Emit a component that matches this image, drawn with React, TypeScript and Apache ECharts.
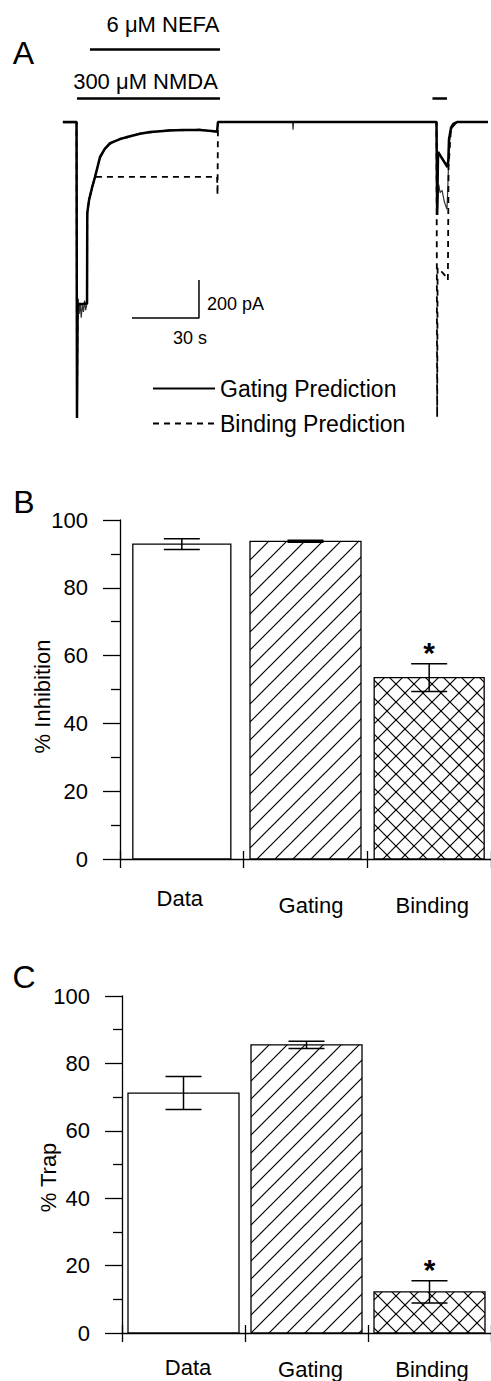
import React, { useEffect, useRef } from 'react';
import * as echarts from 'echarts';

const FONT = '"Liberation Sans", Arial, Helvetica, sans-serif';

// ---------- Panel A : current traces, [time (s), current (pA)] ----------
const dataTrace = [
  [1.3, -4], [7.4, -3], [7.6, -1545], [7.8, -1000], [8.2, -930], [8.6, -1010], [9.0, -950],
  [9.5, -1030], [10.0, -960], [10.5, -1000], [11.0, -940], [11.5, -990], [12.0, -960],
  [12.2, -500], [13.0, -400], [14.3, -355], [15.7, -280], [17.9, -195], [20.1, -145],
  [22.4, -118], [26.9, -85], [30.0, -84], [35.8, -58], [40.3, -57], [49.2, -40], [55.0, -46],
  [62.7, -38], [70.3, -55], [70.7, -2], [104.1, -2], [104.3, -40], [104.5, -2], [168.5, -2],
  [168.8, -489], [169.5, -330], [170.1, -372], [171.0, -360], [172.0, -420], [173.2, -460],
  [173.7, -300], [174.1, -120], [175.0, -40], [177.0, -8], [178.0, 0], [191.5, -2],
];
const gatingTrace = [
  [1.3, 0], [7.4, 0], [7.6, -1558], [7.9, -960], [12.1, -955], [12.2, -479], [13.0, -411],
  [14.3, -347], [15.7, -289], [17.9, -184], [20.1, -140], [22.4, -111], [26.9, -90],
  [30.0, -79], [35.8, -62], [40.3, -53], [49.2, -45], [55.0, -42], [62.7, -42], [70.3, -50],
  [70.7, 0], [168.5, 0], [168.8, -489], [169.2, -158], [173.4, -237], [173.8, -200],
  [174.1, -90], [175.0, -30], [176.0, -10], [177.7, 0], [191.5, 0],
];
const bindingTrace = [
  [1.3, 0], [7.4, 0], [7.6, -1558], [7.9, -960], [12.1, -955], [12.2, -479], [13.0, -411],
  [14.3, -347], [15.7, -289], [70.3, -289], [70.5, -384], [70.7, 0], [168.5, 0],
  [168.8, -1553], [169.0, -768], [171.0, -790], [173.2, -821], [173.6, -832], [173.9, -237],
  [175.0, -30], [177.7, 0], [191.5, 0],
];
// drug application periods (s)
const nefaApplication = [13.4, 71.6];
const nmdaApplication = [7.6, 71.6];
const nmdaPulse = [166.7, 173.2];
// scale bar: 30 s x 200 pA
const scaleBarTime = 30;
const scaleBarCurrent = 200;

// ---------- Panels B and C ----------
const categories = ['Data', 'Gating', 'Binding'];
const inhibitionMean = [92.9, 93.7, 53.5];
const inhibitionErr = [1.6, 0.3, 4.1];
const trapMean = [71.2, 85.5, 12.2];
const trapErr = [4.9, 1.1, 3.3];
const significant = [false, false, true];

// ---------- layout / style (not data) ----------
const LAYOUT = {
  nefaLevel: 384,
  nmdaLevel: 126,
  scaleBarCorner: [62.2, -1032],
  barWidthsB: [98, 111, 110],
  barWidthsC: [111, 111, 111],
};

function makeHatch(cross: boolean) {
  const s = 18;
  const c = document.createElement('canvas');
  c.width = s;
  c.height = s;
  const ctx = c.getContext('2d')!;
  ctx.fillStyle = '#fff';
  ctx.fillRect(0, 0, s, s);
  ctx.strokeStyle = '#000';
  ctx.lineWidth = 1.2;
  const seg = (x1: number, y1: number, x2: number, y2: number) => {
    ctx.beginPath();
    ctx.moveTo(x1, y1);
    ctx.lineTo(x2, y2);
    ctx.stroke();
  };
  seg(-2, s + 2, s + 2, -2);
  seg(-2, 2, 2, -2);
  seg(s - 2, s + 2, s + 2, s - 2);
  if (cross) {
    seg(-2, -2, s + 2, s + 2);
    seg(s - 2, -2, s + 2, 2);
    seg(-2, s - 2, 2, s + 2);
  }
  return { image: c, repeat: 'repeat', imageWidth: s, imageHeight: s };
}

const richLabel = (pads: Record<string, number[]>) => {
  const rich: any = {};
  Object.keys(pads).forEach((k) => {
    rich[k] = { fontSize: 22, fontFamily: FONT, color: '#000', padding: pads[k] };
  });
  return rich;
};
const keyOf = (v: string) => (v === 'Data' ? 'd' : v === 'Gating' ? 'g' : 'b');

const txt = (text: string, x: number, y: number, fontSize: number, align = 'center', extra: any = {}) => ({
  type: 'text', x, y,
  style: {
    text, fontSize, fontFamily: FONT, fill: '#000',
    align, verticalAlign: 'middle', textAlign: align, textVerticalAlign: 'middle', ...extra,
  },
});

export default function App() {
  const ref = useRef<HTMLDivElement>(null);
  useEffect(() => {
    if (!ref.current) return;
    const chart = echarts.init(ref.current, null, { renderer: 'svg' });
    const hatch = makeHatch(false);
    const cross = makeHatch(true);
    const fills = ['#fff', hatch, cross];

    const barRender = (widths: number[]) => (params: any, api: any) => {
      const i = params.dataIndex;
      const top = api.coord([api.value(0), api.value(1)]);
      const base = api.coord([api.value(0), 0]);
      const w = widths[i];
      return {
        type: 'rect',
        shape: { x: top[0] - w / 2, y: top[1], width: w, height: base[1] - top[1] },
        style: { fill: fills[i], stroke: '#000', lineWidth: 1.3 },
      };
    };
    const errRender = (params: any, api: any) => {
      const i = api.value(0);
      const m = api.value(1);
      const e = api.value(2);
      const s = api.value(3);
      const hi = api.coord([i, m + e]);
      const lo = api.coord([i, m - e]);
      const x = hi[0];
      const h = 18;
      const ls = { stroke: '#000', lineWidth: 1.5 };
      const children: any[] = [
        { type: 'line', shape: { x1: x, y1: hi[1], x2: x, y2: lo[1] }, style: ls },
        { type: 'line', shape: { x1: x - h, y1: hi[1], x2: x + h, y2: hi[1] }, style: ls },
        { type: 'line', shape: { x1: x - h, y1: lo[1], x2: x + h, y2: lo[1] }, style: ls },
      ];
      if (s) {
        children.push(txt('*', x, hi[1] - 11, 30, 'center', { fontWeight: 'bold' }));
      }
      return { type: 'group', children };
    };

    const axisBlack = { color: '#000', width: 1.3 };
    const valueY = (gridIndex: number, name: string, nameGap: number, shift: number) => ({
      gridIndex, type: 'value', min: 0, max: 100, interval: 20,
      axisLine: { show: true, lineStyle: axisBlack },
      axisTick: { show: true, length: 17, lineStyle: axisBlack },
      minorTick: { show: true, splitNumber: 2, length: 9, lineStyle: axisBlack },
      splitLine: { show: false },
      axisLabel: { margin: 32, fontSize: 22, fontFamily: FONT, color: '#000' },
      name, nameLocation: 'middle', nameGap, nameMoveOverlap: false,
      nameTextStyle: { fontSize: 22, fontFamily: FONT, color: '#000', padding: [0, shift, 0, 0] },
    });
    const catX = (gridIndex: number, margin: number, pads: Record<string, number[]>) => ({
      gridIndex, type: 'category', data: categories, position: 'bottom',
      axisLine: { show: true, lineStyle: axisBlack },
      axisTick: { show: true, length: 9, interval: 0, lineStyle: axisBlack },
      axisLabel: {
        interval: 0, margin,
        formatter: (v: string) => `{${keyOf(v)}|${v}}`,
        rich: richLabel(pads),
      },
    });
    const catXInner = (gridIndex: number) => ({
      gridIndex, type: 'category', data: categories, position: 'bottom',
      axisLine: { show: false },
      axisTick: { show: true, inside: true, length: 8, interval: 0, lineStyle: axisBlack },
      axisLabel: { show: false },
    });

    const [cx, cy] = LAYOUT.scaleBarCorner;

    const option: any = {
      animation: false,
      backgroundColor: '#fff',
      textStyle: { fontFamily: FONT, color: '#000' },
      grid: [
        { left: 60, top: 46, width: 429, height: 380 },
        { left: 120, top: 520, width: 373.5, height: 339 },
        { left: 122, top: 996, width: 373.5, height: 337 },
      ],
      xAxis: [
        { gridIndex: 0, type: 'value', min: 0, max: 192, show: false },
        catX(1, 28, { d: [0, 4, 0, 0], g: [7, 0, 0, 11], b: [7, 0, 0, 6] }),
        catXInner(1),
        catX(2, 23, { d: [0, 0, 0, 9], g: [2, 0, 0, 8], b: [2, 0, 0, 5] }),
        catXInner(2),
      ],
      yAxis: [
        { gridIndex: 0, type: 'value', min: -1600, max: 400, show: false },
        valueY(1, '% Inhibition', 67, 14),
        valueY(2, '% Trap', 63, 26),
      ],
      legend: {
        data: ['Gating Prediction', 'Binding Prediction'],
        orient: 'vertical', left: 152, top: 377, padding: 0,
        itemWidth: 62, itemHeight: 14, itemGap: 12, selectedMode: false,
        itemStyle: { opacity: 0 },
        textStyle: { fontSize: 23, fontFamily: FONT, color: '#000' },
      },
      series: [
        {
          name: 'Data', type: 'line', xAxisIndex: 0, yAxisIndex: 0, data: dataTrace,
          symbol: 'none', lineStyle: { color: '#333', width: 1.2 }, z: 2,
        },
        {
          name: 'Gating Prediction', type: 'line', xAxisIndex: 0, yAxisIndex: 0, data: gatingTrace,
          symbol: 'none', itemStyle: { color: '#000' }, lineStyle: { color: '#000', width: 2.5 }, z: 3,
        },
        {
          name: 'Binding Prediction', type: 'line', xAxisIndex: 0, yAxisIndex: 0, data: bindingTrace,
          symbol: 'none', itemStyle: { color: '#000' },
          lineStyle: { color: '#000', width: 1.8, type: [6, 5] }, z: 4,
        },
        {
          name: 'Applications', type: 'lines', coordinateSystem: 'cartesian2d', xAxisIndex: 0, yAxisIndex: 0,
          lineStyle: { color: '#000', width: 2.5, opacity: 1 },
          data: [
            { coords: [[nefaApplication[0], LAYOUT.nefaLevel], [nefaApplication[1], LAYOUT.nefaLevel]] },
            { coords: [[nmdaApplication[0], LAYOUT.nmdaLevel], [nmdaApplication[1], LAYOUT.nmdaLevel]] },
            { coords: [[nmdaPulse[0], LAYOUT.nmdaLevel], [nmdaPulse[1], LAYOUT.nmdaLevel]] },
          ],
        },
        {
          name: 'Scale', type: 'line', xAxisIndex: 0, yAxisIndex: 0, symbol: 'none',
          lineStyle: { color: '#000', width: 1.5 },
          data: [[cx - scaleBarTime, cy], [cx, cy], [cx, cy + scaleBarCurrent]],
        },
        {
          name: 'InhibitionBars', type: 'custom', xAxisIndex: 1, yAxisIndex: 1, z: 2,
          renderItem: barRender(LAYOUT.barWidthsB),
          data: inhibitionMean.map((m, i) => [i, m]),
        },
        {
          name: 'InhibitionErr', type: 'custom', xAxisIndex: 1, yAxisIndex: 1, z: 3,
          renderItem: errRender,
          data: inhibitionMean.map((m, i) => [i, m, inhibitionErr[i], significant[i] ? 1 : 0]),
        },
        {
          name: 'TrapBars', type: 'custom', xAxisIndex: 3, yAxisIndex: 2, z: 2,
          renderItem: barRender(LAYOUT.barWidthsC),
          data: trapMean.map((m, i) => [i, m]),
        },
        {
          name: 'TrapErr', type: 'custom', xAxisIndex: 3, yAxisIndex: 2, z: 3,
          renderItem: errRender,
          data: trapMean.map((m, i) => [i, m, trapErr[i], significant[i] ? 1 : 0]),
        },
      ],
      graphic: [
        txt('A', 23.5, 53, 32),
        txt('B', 24, 502, 32),
        txt('C', 24, 977, 32),
        txt('6 μM NEFA', 163, 24, 22),
        txt('300 μM NMDA', 145.5, 81, 22),
        txt('200 pA', 207, 304, 18, 'left'),
        txt('30 s', 190, 338, 18),
      ],
    };
    chart.setOption(option);
    return () => chart.dispose();
  }, []);
  return (
    <div
      ref={ref}
      style={{ position: 'absolute', left: 0, top: 0, width: 491, height: 1381, background: '#fff' }}
    />
  );
}
